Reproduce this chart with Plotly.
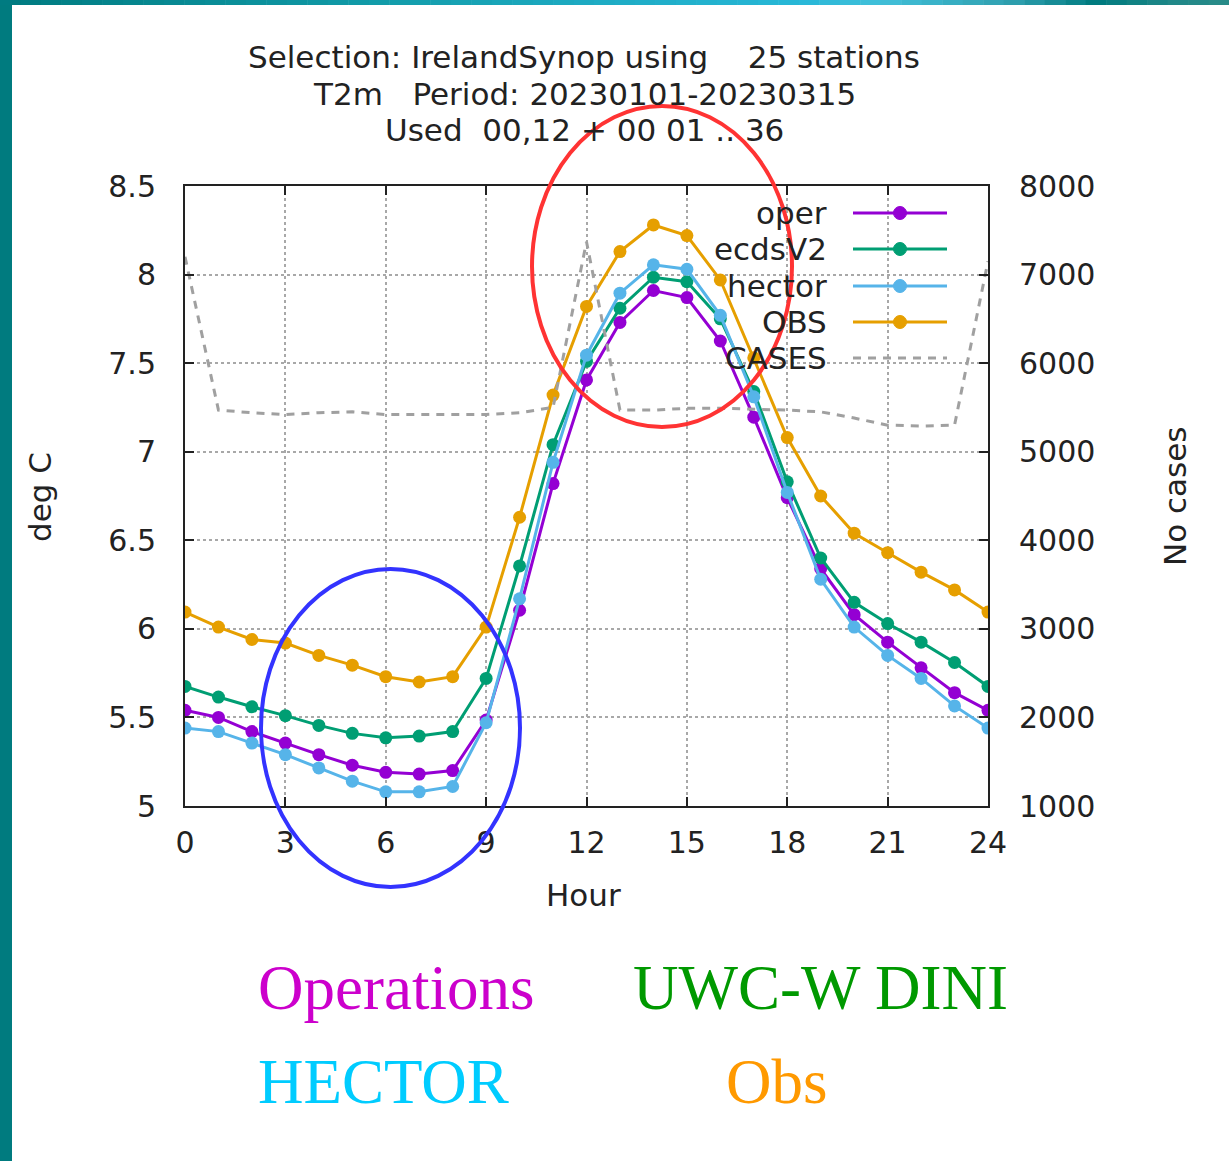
import plotly.graph_objects as go

# ---------------- data ----------------
hours = list(range(25))
oper = [5.54, 5.50, 5.42, 5.355, 5.29, 5.23, 5.19, 5.18, 5.20, 5.485, 6.105, 6.82, 7.405,
        7.73, 7.91, 7.87, 7.625, 7.195, 6.74, 6.34, 6.08, 5.925, 5.78, 5.64, 5.54]
ecdsv2 = [5.675, 5.615, 5.56, 5.51, 5.455, 5.41, 5.385, 5.395, 5.42, 5.72, 6.355, 7.04, 7.51,
          7.81, 7.985, 7.96, 7.75, 7.34, 6.83, 6.40, 6.15, 6.03, 5.925, 5.81, 5.675]
hector = [5.44, 5.42, 5.355, 5.29, 5.215, 5.14, 5.08, 5.08, 5.11, 5.47, 6.17, 6.94, 7.545,
          7.895, 8.055, 8.03, 7.77, 7.31, 6.77, 6.28, 6.01, 5.85, 5.72, 5.565, 5.44]
obs = [6.095, 6.01, 5.94, 5.92, 5.85, 5.795, 5.73, 5.70, 5.73, 6.01, 6.63, 7.32, 7.82,
       8.13, 8.28, 8.22, 7.97, 7.53, 7.08, 6.75, 6.54, 6.43, 6.32, 6.22, 6.095]
cases = [7200, 5470, 5440, 5420, 5440, 5450, 5420, 5420, 5420, 5420, 5440, 5500, 7370,
         5470, 5470, 5490, 5490, 5480, 5470, 5450, 5380, 5300, 5290, 5300, 7150]

series_names = ["oper", "ecdsV2", "hector", "OBS", "CASES"]
x_ticks = [0, 3, 6, 9, 12, 15, 18, 21, 24]
y_ticks = [5, 5.5, 6, 6.5, 7, 7.5, 8, 8.5]
y_tick_text = ["5", "5.5", "6", "6.5", "7", "7.5", "8", "8.5"]
y2_ticks = [1000, 2000, 3000, 4000, 5000, 6000, 7000, 8000]

NB = "\u00a0"
title_lines = [
    "Selection: IrelandSynop using" + NB * 4 + "25 stations",
    "T2m" + NB * 3 + "Period: 20230101-20230315",
    "Used" + NB * 2 + "00,12" + NB + "+ 00 01 .. 36",
]
x_title = "Hour"
y_title = "deg C"
y2_title = "No cases"
bottom_labels = ["Operations", "UWC-W DINI", "HECTOR", "Obs"]

# ---------------- styles ----------------
W, H = 1229, 1161
L, R, T, B = 185, 988, 186, 806
colors = ["#9400D3", "#009E73", "#56B4E9", "#E69F00", "#A0A0A0"]
FONT = "DejaVu Sans"
FS = 31
FST = 30


def px(X):
    return (X - L) / (R - L)


def py(Y):
    return (B - Y) / (B - T)


fig = go.Figure()
for vals, name, col in zip([oper, ecdsv2, hector, obs], series_names[:4], colors[:4]):
    fig.add_trace(go.Scatter(x=hours, y=vals, name=name, mode="lines+markers",
                             line=dict(color=col, width=3),
                             marker=dict(color=col, size=13, symbol="circle"),
                             showlegend=False))
fig.add_trace(go.Scatter(x=hours, y=cases, name=series_names[4], mode="lines", yaxis="y2",
                         line=dict(color=colors[4], width=3, dash="8px,7px"),
                         showlegend=False))

shapes = []
annotations = []

# legend background (covers grid, under traces)
shapes.append(dict(type="rect", xref="paper", yref="paper", layer="between",
                   x0=px(710), x1=px(975), y0=py(377), y1=py(195),
                   fillcolor="white", line=dict(width=0)))

# custom legend: text right-aligned, sample on the right
leg_y = [213, 249, 286, 322, 358]
for i, (name, col) in enumerate(zip(series_names, colors)):
    annotations.append(dict(xref="paper", yref="paper", x=px(829), y=py(leg_y[i]),
                            text=name, showarrow=False, xanchor="right", yanchor="middle",
                            font=dict(family=FONT, size=FS, color="#222222")))
    if i < 4:
        shapes.append(dict(type="line", xref="paper", yref="paper",
                           x0=px(853), x1=px(947), y0=py(leg_y[i]), y1=py(leg_y[i]),
                           line=dict(color=col, width=3)))
        shapes.append(dict(type="circle", xref="paper", yref="paper",
                           x0=px(893.5), x1=px(906.5), y0=py(leg_y[i] + 6.5), y1=py(leg_y[i] - 6.5),
                           fillcolor=col, line=dict(color=col, width=1)))
    else:
        shapes.append(dict(type="line", xref="paper", yref="paper",
                           x0=px(853), x1=px(947), y0=py(leg_y[i]), y1=py(leg_y[i]),
                           line=dict(color=col, width=3, dash="8px,7px")))

# title lines
for i, txt in enumerate(title_lines):
    annotations.append(dict(xref="paper", yref="paper", x=px(584), y=py(57 + 36.5 * i),
                            text=txt, showarrow=False, xanchor="center", yanchor="middle",
                            font=dict(family=FONT, size=FS, color="#222222")))

# axis titles
annotations.append(dict(xref="paper", yref="paper", x=px(583), y=py(895), text=x_title,
                        showarrow=False, xanchor="center", yanchor="middle",
                        font=dict(family=FONT, size=FS, color="#222222")))
annotations.append(dict(xref="paper", yref="paper", x=px(40), y=py(497), text=y_title,
                        showarrow=False, textangle=-90, xanchor="center", yanchor="middle",
                        font=dict(family=FONT, size=FS, color="#222222")))
annotations.append(dict(xref="paper", yref="paper", x=px(1175), y=py(497), text=y2_title,
                        showarrow=False, textangle=-90, xanchor="center", yanchor="middle",
                        font=dict(family=FONT, size=FS, color="#222222")))

# bottom coloured labels
SERIF = "Liberation Serif"
bl = [(256, 988, "#CC00CC"), (631, 988, "#009900"), (256, 1082, "#00CCFF"), (724, 1082, "#FF9900")]
for txt, (X, Y, col) in zip(bottom_labels, bl):
    annotations.append(dict(xref="paper", yref="paper", x=px(X), y=py(Y), text=txt,
                            showarrow=False, xanchor="left", yanchor="middle",
                            font=dict(family=SERIF, size=63, color=col)))

# ellipses
shapes.append(dict(type="circle", xref="paper", yref="paper", layer="above",
                   x0=px(532), x1=px(792), y0=py(427), y1=py(106),
                   line=dict(color="#FF3333", width=4)))
shapes.append(dict(type="circle", xref="paper", yref="paper", layer="above",
                   x0=px(261), x1=px(520), y0=py(887), y1=py(569),
                   line=dict(color="#3333FF", width=4)))

# page decoration: left teal strip and gradient top bar
shapes.append(dict(type="rect", xref="paper", yref="paper", layer="above",
                   x0=px(0), x1=px(12), y0=py(H), y1=py(0),
                   fillcolor="#007B7F", line=dict(width=0)))
stops = [(0, (0, 123, 128)), (200, (10, 140, 150)), (400, (20, 158, 172)),
         (600, (30, 172, 196)), (800, (40, 184, 216)), (880, (66, 192, 218)),
         (1010, (48, 160, 176)), (1097, (0, 123, 127)), (1170, (32, 136, 136)),
         (1229, (42, 140, 136))]
nseg = 60
for k in range(nseg):
    xa = W * k / nseg
    xb = W * (k + 1) / nseg
    xm = (xa + xb) / 2
    for j in range(len(stops) - 1):
        if stops[j][0] <= xm <= stops[j + 1][0]:
            t = (xm - stops[j][0]) / (stops[j + 1][0] - stops[j][0])
            c = tuple(int(stops[j][1][m] + t * (stops[j + 1][1][m] - stops[j][1][m])) for m in range(3))
            break
    shapes.append(dict(type="rect", xref="paper", yref="paper", layer="above",
                       x0=px(xa), x1=px(xb + 0.5), y0=py(5), y1=py(0),
                       fillcolor="rgb(%d,%d,%d)" % c, line=dict(width=0)))

axis_common = dict(showline=True, linecolor="#222222", linewidth=2,
                   ticks="inside", ticklen=9, tickwidth=2, tickcolor="#222222",
                   tickfont=dict(family=FONT, size=FST, color="#222222"),
                   zeroline=False)

fig.update_layout(
    width=W, height=H,
    margin=dict(l=L, r=W - R, t=T, b=H - B),
    paper_bgcolor="white", plot_bgcolor="white",
    showlegend=False,
    xaxis=dict(range=[0, 24], tickvals=x_ticks, mirror="ticks",
               showgrid=True, gridcolor="#A8A8A8", griddash="dot", gridwidth=1.5,
               ticklabelstandoff=9, **axis_common),
    yaxis=dict(range=[5, 8.5], tickvals=y_ticks, ticktext=y_tick_text, mirror=True,
               showgrid=True, gridcolor="#A8A8A8", griddash="dot", gridwidth=1.5,
               ticklabelstandoff=21, **axis_common),
    yaxis2=dict(range=[1000, 8000], tickvals=y2_ticks, overlaying="y", side="right",
                showgrid=False, ticklabelstandoff=23, **axis_common),
    shapes=shapes,
    annotations=annotations,
)

fig.write_html("out.html", config={"displayModeBar": False},
               post_script="document.body.style.margin='0';document.body.style.overflow='hidden';")
